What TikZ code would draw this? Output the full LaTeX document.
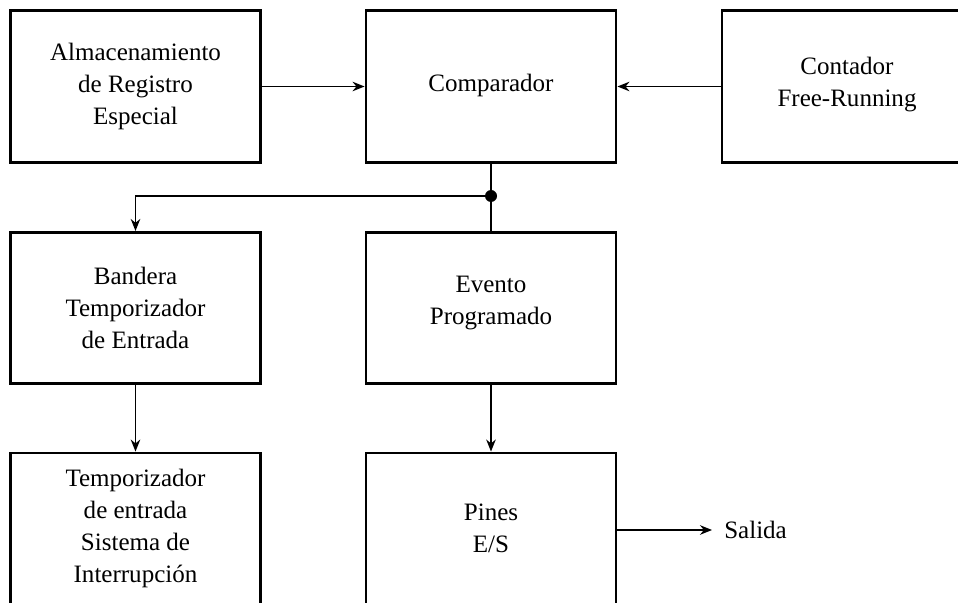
\documentclass[tikz,border=0pt]{standalone}
\usepackage{fontspec}
\setmainfont{Liberation Serif}
\usetikzlibrary{arrows.meta, positioning}

\begin{document}
\begin{tikzpicture}[
			font=\fontsize{17.8}{22.8}\selectfont,
			block/.style={
					draw,
					minimum width=6.25cm,
					minimum height=3.78cm,
					align=center,
					line width=2.1pt
				},
			dot/.style={
					circle,
					fill,
					inner sep=0pt,
					minimum size=0.3cm
				},
			sigarrow/.style={
			-{Stealth[length=3mm, width=2.4mm]},
			line width=1.1pt
			},
			sigline/.style={
			line width=1.1pt
			}
			]

			\useasboundingbox (0,0) rectangle (23.95,-15.075);

			% ================= fila superior =================
			\node[block] (alm) at (3.3875,-2.1625) {Almacenamiento\\de Registro\\Especial};
			\node[block] (cmp) at (12.275,-2.1625) {Comparador\\[-0.6cm]};
			\node[block] (cnt) at (21.175,-2.1625) {Contador\\Free-Running\\[-0.55cm]};

			% ================= fila central =================
			\node[block] (flag) at (3.3875,-7.7) {Bandera\\Temporizador\\de Entrada};
			\node[block] (evt) at (12.275,-7.7) {Evento\\Programado\\[-0.4cm]};

			% ================= fila inferior =================
			\node[block] (irq) at (3.3875,-13.215) {Temporizador\\de entrada\\Sistema de\\Interrupción};
			\node[block] (pins) at (12.275,-13.215) {Pines\\E/S};
			\node[inner sep=0.3cm, anchor=west] (out) at (17.8,-13.25) {Salida};

			% ================= conexiones =================
			\draw[sigarrow] (alm.east) -- (cmp.west);
			\draw[sigarrow] (cnt.west) -- (cmp.west -| cmp.east);

			\node[dot] (junc) at (12.275,-4.9) {};
			\draw[sigline] (cmp.south) -- (junc.center) -- (evt.north);
			\draw[sigarrow] (junc.center) -| (flag.north);

			\draw[sigarrow] (flag.south) -- (irq.north);
			\draw[sigarrow] (evt.south) -- (pins.north);
			\draw[sigarrow] (pins.east |- out.west) -- (out.west);

		\end{tikzpicture}
\end{document}
